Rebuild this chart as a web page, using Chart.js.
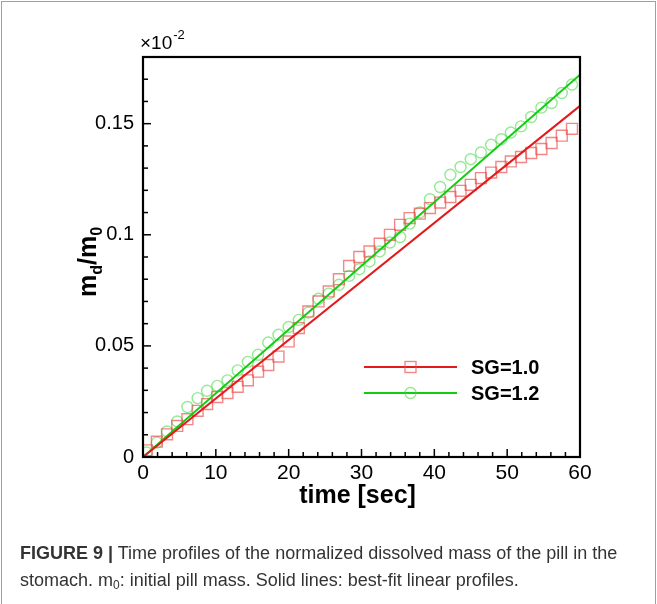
<!DOCTYPE html>
<html><head><meta charset="utf-8">
<script src="https://cdn.jsdelivr.net/npm/chart.js@4.4.1/dist/chart.umd.min.js"></script>
<style>
html,body{margin:0;padding:0;background:#fff;}
#wrap{position:relative;width:657px;height:604px;overflow:hidden;background:#fff;}
#frame{position:absolute;left:1px;top:1px;width:653px;height:640px;border:1px solid #a0a0a0;}
canvas{position:absolute;left:0;top:0;}
#cap{position:absolute;left:20px;top:540px;font-family:"Liberation Sans",Arial,sans-serif;font-size:18px;line-height:27px;color:#333;white-space:nowrap;}
#cap sub{font-size:12px;vertical-align:-3px;line-height:0;}
</style></head><body>
<div id="wrap"><div id="frame"></div><canvas id="c" width="657" height="604"></canvas>
<div id="cap"><b>FIGURE 9 |</b> Time profiles of the normalized dissolved mass of the pill in the<br>stomach. m<sub>0</sub>: initial pill mass. Solid lines: best-fit linear profiles.</div></div>
<script>
// sample times [sec]
const times = [0.5,1.9,3.3,4.7,6.1,7.5,8.8,10.2,11.6,13.0,14.4,15.8,17.2,18.6,20.0,21.4,22.7,24.1,25.5,26.9,28.3,29.7,31.1,32.5,33.9,35.3,36.6,38.0,39.4,40.8,42.2,43.6,45.0,46.4,47.8,49.2,50.5,51.9,53.3,54.7,56.1,57.5,58.9];
// m_d/m_0 in units of 1e-2
const sg10 = [0.003,0.0069,0.0102,0.014,0.017,0.0208,0.0238,0.027,0.0288,0.0316,
  0.0345,0.0384,0.0414,0.0452,0.052,0.058,0.0655,0.070,0.0745,0.080,
  0.086,0.090,0.0925,0.096,0.100,0.1045,0.1075,0.1095,0.112,0.1145,
  0.117,0.1198,0.1225,0.1255,0.128,0.1305,0.133,0.135,0.1368,0.1386,
  0.1413,0.1446,0.1477];
const sg12 = [0.002,0.0065,0.0115,0.016,0.0225,0.0265,0.0298,0.032,0.0345,0.039,
  0.0428,0.046,0.0515,0.055,0.0585,0.0617,0.065,0.0712,0.0735,0.0775,
  0.0815,0.0845,0.088,0.0925,0.0965,0.099,0.105,0.110,0.116,0.1215,
  0.127,0.1305,0.134,0.137,0.1405,0.143,0.146,0.1488,0.153,0.1572,
  0.1593,0.1638,0.1676];
// best-fit linear profiles
const fitTimes = [0, 60];
const fit10 = [0, 0.158];
const fit12 = [0, 0.172];
const seriesNames = ['SG=1.0', 'SG=1.2'];
const xTickLabels = ['0','10','20','30','40','50','60'];
const yTickLabels = ['0','0.05','0.1','0.15'];

const RED = '#e31a1a', GREEN = '#11cc11';
const RED_M = 'rgba(236,70,70,0.65)', GREEN_M = 'rgba(60,215,60,0.55)';
const FONT = '"Liberation Sans", Arial, Helvetica, sans-serif';
const pts = (xs, ys) => xs.map((t, i) => ({x: t, y: ys[i]}));

const deco = {
  id: 'deco',
  afterDatasetsDraw(chart) {
    const {ctx, chartArea: a, scales: {x, y}} = chart;
    ctx.save();
    // inward ticks
    ctx.strokeStyle = '#000'; ctx.lineWidth = 1.5;
    for (let v = 0; v <= 60; v += 2) {
      const px = x.getPixelForValue(v);
      const len = (v % 10 === 0) ? 8 : 5;
      ctx.beginPath(); ctx.moveTo(px, a.bottom); ctx.lineTo(px, a.bottom - len); ctx.stroke();
    }
    for (let k = 0; k <= 18; k++) {
      const py = y.getPixelForValue(k / 100);
      const len = (k % 5 === 0) ? 8 : 5;
      ctx.beginPath(); ctx.moveTo(a.left, py); ctx.lineTo(a.left + len, py); ctx.stroke();
    }
    // frame
    ctx.lineWidth = 2.2;
    ctx.strokeRect(a.left, a.top, a.right - a.left, a.bottom - a.top);
    // exponent label
    ctx.fillStyle = '#000';
    ctx.textBaseline = 'alphabetic';
    ctx.font = '19px ' + FONT;
    ctx.fillText('\u00d710', a.left - 3, a.top - 8);
    const w = ctx.measureText('\u00d710').width;
    ctx.font = '13px ' + FONT;
    ctx.fillText('-2', a.left - 3 + w + 1, a.top - 18);
    // x title
    ctx.font = 'bold 25px ' + FONT;
    ctx.textAlign = 'center';
    ctx.fillText('time [sec]', (a.left + a.right) / 2 - 4, a.bottom + 46);
    // y title m_d/m_0 rotated
    ctx.save();
    ctx.translate(96, 262);
    ctx.rotate(-Math.PI / 2);
    ctx.textAlign = 'left';
    const parts = [['m', 25, 0], ['d', 16, 6], ['/m', 25, 0], ['0', 16, 6]];
    let tot = 0;
    for (const [s, sz] of parts) { ctx.font = 'bold ' + sz + 'px ' + FONT; tot += ctx.measureText(s).width; }
    let cx = -tot / 2;
    for (const [s, sz, dy] of parts) {
      ctx.font = 'bold ' + sz + 'px ' + FONT;
      ctx.fillText(s, cx, dy);
      cx += ctx.measureText(s).width;
    }
    ctx.restore();
    // legend
    const items = [[RED, RED_M, 'rect', seriesNames[0]], [GREEN, GREEN_M, 'circle', seriesNames[1]]];
    items.forEach(([lc, mc, st, name], i) => {
      const ly = 367 + i * 26;
      ctx.strokeStyle = lc; ctx.lineWidth = 2;
      ctx.beginPath(); ctx.moveTo(364, ly); ctx.lineTo(457, ly); ctx.stroke();
      ctx.strokeStyle = mc; ctx.lineWidth = 1.4;
      if (st === 'rect') ctx.strokeRect(405, ly - 5.5, 11, 11);
      else { ctx.beginPath(); ctx.arc(410.5, ly, 5.5, 0, Math.PI * 2); ctx.stroke(); }
      ctx.fillStyle = '#000';
      ctx.font = 'bold 20px ' + FONT;
      ctx.textAlign = 'left'; ctx.textBaseline = 'middle';
      ctx.fillText(name, 471, ly + 1);
    });
    ctx.restore();
  }
};

new Chart(document.getElementById('c'), {
  type: 'scatter',
  data: {
    datasets: [
      {label: seriesNames[0] + ' fit', data: pts(fitTimes, fit10), showLine: true, borderColor: RED, borderWidth: 2, pointRadius: 0, fill: false},
      {label: seriesNames[1] + ' fit', data: pts(fitTimes, fit12), showLine: true, borderColor: GREEN, borderWidth: 2, pointRadius: 0, fill: false},
      {label: seriesNames[0], data: pts(times, sg10), showLine: false, pointStyle: 'rect', pointRadius: 7.7, borderColor: RED_M, borderWidth: 1.4, backgroundColor: 'rgba(0,0,0,0)'},
      {label: seriesNames[1], data: pts(times, sg12), showLine: false, pointStyle: 'circle', pointRadius: 5.5, borderColor: GREEN_M, borderWidth: 1.4, backgroundColor: 'rgba(0,0,0,0)'}
    ]
  },
  options: {
    responsive: false, animation: false, devicePixelRatio: 1,
    layout: {padding: {left: 0, right: 77, top: 57, bottom: 0}},
    plugins: {legend: {display: false}, tooltip: {enabled: false}},
    scales: {
      x: {type: 'linear', min: 0, max: 60,
        grid: {display: false, drawTicks: false}, border: {display: false},
        ticks: {stepSize: 10, padding: 4, color: '#000', font: {family: FONT, size: 21},
          callback: (v) => xTickLabels[Math.round(v / 10)] ?? ''},
        afterFit: (s) => { s.height = 147; }
      },
      y: {type: 'linear', min: 0, max: 0.18,
        grid: {display: false, drawTicks: false}, border: {display: false},
        ticks: {stepSize: 0.05, includeBounds: false, padding: 9, color: '#000', font: {family: FONT, size: 20},
          callback: (v) => yTickLabels[Math.round(v / 0.05)] ?? ''},
        afterFit: (s) => { s.width = 143; }
      }
    }
  },
  plugins: [deco]
});
</script>
</body></html>
